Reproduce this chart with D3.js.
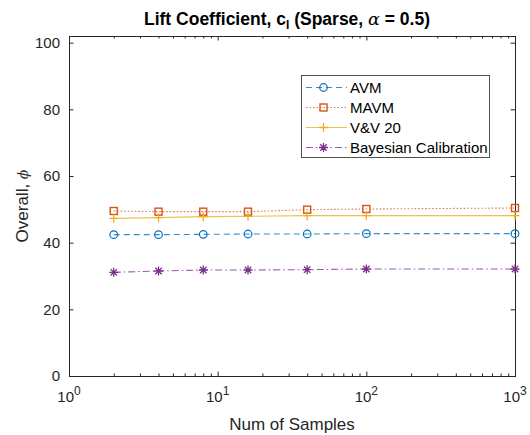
<!DOCTYPE html>
<html>
<head>
<meta charset="utf-8">
<script src="https://cdn.jsdelivr.net/npm/d3@7"></script>
<style>
  body { margin: 0; background: #fff; }
  svg { display: block; font-family: 'Liberation Sans', Arial, sans-serif; }
</style>
</head>
<body>
<div id="app"></div>
<script>
// data
const samples = [2, 4, 8, 16, 40, 100, 1000];
const avm = [42.4, 42.4, 42.5, 42.6, 42.6, 42.7, 42.7];
const mavm = [49.5, 49.3, 49.3, 49.3, 49.9, 50.1, 50.4];
const vv20 = [47.3, 47.5, 47.8, 47.9, 48.1, 48.1, 48.1];
const bayes = [31.1, 31.5, 31.8, 31.8, 31.9, 32.1, 32.1];
const seriesNames = ['AVM', 'MAVM', 'V&V 20', 'Bayesian Calibration'];
const xTicks = [1, 10, 100, 1000];
const yTicks = [0, 20, 40, 60, 80, 100];

const width = 530, height = 435;
const m = { left: 69, right: 15, top: 36, bottom: 59 };
const iw = width - m.left - m.right;
const ih = height - m.top - m.bottom;
const axisColor = '#262626';

const svg = d3.select('#app').append('svg')
  .attr('width', width).attr('height', height);

const x = d3.scaleLog().domain([1, 1000]).range([0, iw]);
const y = d3.scaleLinear().domain([0, 102]).range([ih, 0]);

const g = svg.append('g').attr('transform', `translate(${m.left},${m.top})`);

// box
g.append('rect').attr('width', iw).attr('height', ih)
  .attr('fill', 'none').attr('stroke', axisColor).attr('stroke-width', 1)
  .attr('shape-rendering', 'crispEdges');

const tickLen = 4.5;
const minor = x.ticks().filter(d => !xTicks.includes(d));

// x axis bottom (major + minor), mirrored on top
g.append('g').attr('transform', `translate(0,${ih})`)
  .call(d3.axisBottom(x).tickValues(xTicks).tickSizeInner(-tickLen).tickSizeOuter(0).tickFormat(''));
g.append('g').attr('transform', `translate(0,${ih})`)
  .call(d3.axisBottom(x).tickValues(minor).tickSizeInner(-2.5).tickSizeOuter(0).tickFormat(''));
g.append('g')
  .call(d3.axisTop(x).tickValues(xTicks).tickSizeInner(-tickLen).tickSizeOuter(0).tickFormat(''));
g.append('g')
  .call(d3.axisTop(x).tickValues(minor).tickSizeInner(-2.5).tickSizeOuter(0).tickFormat(''));

// x tick labels 10^k
xTicks.forEach(v => {
  const t = g.append('text')
    .attr('x', x(v)).attr('y', ih + 26)
    .attr('text-anchor', 'middle')
    .attr('font-size', 15).attr('fill', axisColor);
  t.append('tspan').text('10');
  t.append('tspan').attr('dy', -7).attr('font-size', 12).text(Math.round(Math.log10(v)));
});

// y axis
g.append('g')
  .call(d3.axisLeft(y).tickValues(yTicks).tickSizeInner(-tickLen).tickSizeOuter(0).tickPadding(9))
  .selectAll('text').attr('font-size', 15).attr('fill', axisColor)
  .attr('font-family', "'Liberation Sans', Arial, sans-serif");
g.append('g').attr('transform', `translate(${iw},0)`)
  .call(d3.axisRight(y).tickValues(yTicks).tickSizeInner(-tickLen).tickSizeOuter(0).tickFormat(''));

g.selectAll('.domain').attr('stroke', 'none');
g.selectAll('.tick line').attr('stroke', axisColor);

// series
const series = [
  { name: seriesNames[0], vals: avm, color: '#0072BD', dash: '6,4', marker: 'circle' },
  { name: seriesNames[1], vals: mavm, color: '#D95319', dash: '1.5,2', marker: 'square' },
  { name: seriesNames[2], vals: vv20, color: '#EDB120', dash: null, marker: 'plus' },
  { name: seriesNames[3], vals: bayes, color: '#7E2F8E', dash: '7,3,1.5,3', marker: 'star' }
];

function drawMarker(sel, type, cx, cy, color) {
  if (type === 'circle') {
    sel.append('circle').attr('cx', cx).attr('cy', cy).attr('r', 3.8)
      .attr('fill', 'none').attr('stroke', color).attr('stroke-width', 1.2);
  } else if (type === 'square') {
    sel.append('rect').attr('x', cx - 3.5).attr('y', cy - 3.5).attr('width', 7).attr('height', 7)
      .attr('fill', 'none').attr('stroke', color).attr('stroke-width', 1.4);
  } else if (type === 'plus') {
    sel.append('path').attr('d', `M${cx - 4.5},${cy}H${cx + 4.5}M${cx},${cy - 4.5}V${cy + 4.5}`)
      .attr('stroke', color).attr('stroke-width', 1.3);
  } else {
    const r = 4.5, d = r * 0.72;
    sel.append('path')
      .attr('d', `M${cx - r},${cy}H${cx + r}M${cx},${cy - r}V${cy + r}M${cx - d},${cy - d}L${cx + d},${cy + d}M${cx - d},${cy + d}L${cx + d},${cy - d}`)
      .attr('stroke', color).attr('stroke-width', 1.3);
  }
}

const line = d3.line().x((d, i) => x(samples[i])).y(d => y(d));

series.forEach(s => {
  g.append('path').attr('d', line(s.vals))
    .attr('fill', 'none').attr('stroke', s.color).attr('stroke-width', 1.1)
    .attr('stroke-opacity', 0.8)
    .attr('stroke-dasharray', s.dash);
  const mg = g.append('g');
  s.vals.forEach((v, i) => drawMarker(mg, s.marker, x(samples[i]), y(v), s.color));
});

// legend
const lg = svg.append('g').attr('transform', 'translate(301,75)');
lg.append('rect').attr('width', 188).attr('height', 82)
  .attr('fill', '#fff').attr('stroke', axisColor).attr('stroke-width', 0.8)
  .attr('shape-rendering', 'crispEdges');
series.forEach((s, i) => {
  const ly = 12.5 + i * 20;
  lg.append('line').attr('x1', 5).attr('x2', 46).attr('y1', ly).attr('y2', ly)
    .attr('stroke', s.color).attr('stroke-width', 1.1).attr('stroke-opacity', 0.8)
    .attr('stroke-dasharray', s.dash);
  drawMarker(lg, s.marker, 22.5, ly, s.color);
  lg.append('text').attr('x', 49).attr('y', ly + 5.5)
    .attr('font-size', 15).attr('fill', '#000').text(s.name);
});

// title
const title = svg.append('text').attr('x', m.left + iw / 2 - 5).attr('y', 25)
  .attr('text-anchor', 'middle').attr('font-size', 17.5).attr('font-weight', 'bold').attr('fill', '#000');
title.append('tspan').text('Lift Coefficient, c');
title.append('tspan').attr('dy', 4).attr('font-size', 12).text('l');
title.append('tspan').attr('dy', -4).text(' (Sparse, ');
title.append('tspan').attr('font-family', "'DejaVu Serif', serif").attr('font-style', 'italic').attr('font-weight', 'normal').text('α');
title.append('tspan').text(' = 0.5)');

// axis labels
svg.append('text').attr('x', m.left + iw / 2).attr('y', 430)
  .attr('text-anchor', 'middle').attr('font-size', 17).attr('fill', axisColor)
  .text('Num of Samples');
const yl = svg.append('text')
  .attr('transform', `translate(28,${m.top + ih / 2}) rotate(-90)`)
  .attr('text-anchor', 'middle').attr('font-size', 17).attr('fill', axisColor);
yl.append('tspan').text('Overall, ');
yl.append('tspan').attr('font-family', "'DejaVu Serif', serif").attr('font-style', 'italic').attr('font-size', 14).text('ϕ');
</script>
</body>
</html>
